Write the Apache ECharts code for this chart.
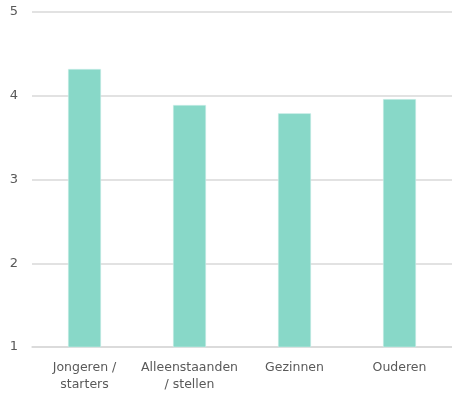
<!DOCTYPE html>
<html>
<head>
<meta charset="utf-8">
<script src="https://cdn.jsdelivr.net/npm/echarts@6/dist/echarts.min.js"></script>
<style>
  html, body { margin: 0; padding: 0; background: #fff; }
  #chart { width: 452px; height: 393px; }
</style>
</head>
<body>
<div id="chart"></div>
<script>
// categorieën en gemiddelde scores
var categories = ['Jongeren /\nstarters', 'Alleenstaanden\n/ stellen', 'Gezinnen', 'Ouderen'];
var scores = [4.32, 3.89, 3.79, 3.96];
var yTicks = [1, 2, 3, 4, 5];

var chart = echarts.init(document.getElementById('chart'));

var option = {
  animation: false,
  grid: { left: 32, top: 12, width: 424, height: 336 },
  xAxis: {
    type: 'category',
    data: categories,
    axisLine: { lineStyle: { color: '#d9d9d9', width: 1.5 } },
    axisTick: { show: false },
    axisLabel: {
      interval: 0,
      color: '#595959',
      fontFamily: 'DejaVu Sans',
      fontSize: 12.5,
      lineHeight: 17,
      margin: 12
    }
  },
  yAxis: {
    type: 'value',
    min: yTicks[0],
    max: yTicks[yTicks.length - 1],
    interval: 1,
    axisLine: { show: false },
    axisTick: { show: false },
    axisLabel: {
      color: '#595959',
      fontFamily: 'DejaVu Sans',
      fontSize: 13,
      margin: 14
    },
    splitLine: { lineStyle: { color: '#d9d9d9', width: 1.5 } }
  },
  series: [{
    type: 'bar',
    data: scores,
    barWidth: 33,
    itemStyle: { color: '#88d8c8', borderColor: '#d8f3ee', borderWidth: 0.5 }
  }]
};

chart.setOption(option);
</script>
</body>
</html>
